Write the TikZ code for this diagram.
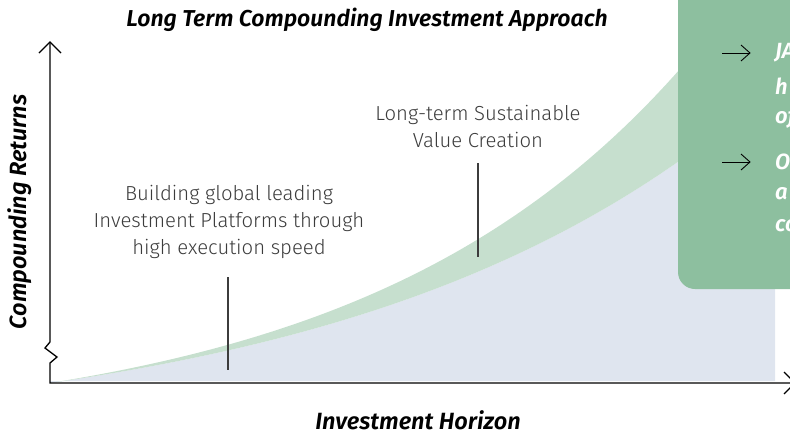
\documentclass[tikz,border=0pt]{standalone}
\usepackage{fontspec}
\setmainfont{Fira Sans}
\newfontfamily\lightfont{Fira Sans Light}
\newfontfamily\semifont{Fira Sans SemiBold Italic}
\definecolor{boxgreen}{HTML}{8DBF9F}
\definecolor{bandgreen}{HTML}{C6DFCE}
\definecolor{areablue}{HTML}{DFE5EF}
\definecolor{labgray}{HTML}{3C3C3C}
\tikzset{
  axisline/.style={line width=1.3pt, black, line join=miter},
  pointer/.style={line width=1.2pt, labgray},
  thinarrow/.style={line width=0.9pt, black, line join=miter},
  lbl/.style={font=\lightfont\fontsize{20.3}{26.7}\selectfont, text=labgray, align=center, inner sep=0pt},
  ttl/.style={font=\semifont\fontsize{23}{26}\selectfont, text=black, inner sep=0pt},
  axlbl/.style={font=\semifont\fontsize{23.5}{26}\selectfont, text=black, inner sep=0pt},
  boxtxt/.style={font=\semifont\fontsize{22}{32}\selectfont, text=white, anchor=west, inner sep=0pt}
}
\begin{document}
\begin{tikzpicture}[x=1pt,y=-1pt]
\useasboundingbox (0,0) rectangle (790,434);
\clip (0,0) rectangle (790,434);
% blue area under the curve
\fill[areablue] (50,382) -- plot[domain=50:775, samples=80] (\x, {383-58*(exp(0.0025*(\x-50))-1)}) -- (775,381) -- (50,381) -- cycle;
% green band
\fill[bandgreen] plot[domain=50:725, samples=80] (\x, {383-52*(exp(0.0031*(\x-50))-1)})
  -- plot[domain=775:50, samples=80] (\x, {383-58*(exp(0.0025*(\x-50))-1)}) -- cycle;
% green box
\fill[boxgreen, rounded corners=17pt] (678,-30) rectangle (830,289);
% box arrows
\coordinate (a1s) at (722,53); \coordinate (a1e) at (750,53);
\coordinate (a2s) at (722,162); \coordinate (a2e) at (750,162);
\draw[thinarrow] (a1s) -- (a1e);
\draw[thinarrow] (741,45) -- (a1e) -- (741,61);
\draw[thinarrow] (a2s) -- (a2e);
\draw[thinarrow] (741,154) -- (a2e) -- (741,170);
% box text
\node[boxtxt] (t1) at (775,53) {JA};
\node[boxtxt] (t2) at (775,86) {h};
\node[boxtxt] (t3) at (775,118) {of};
\node[boxtxt] (t4) at (775,162) {O};
\node[boxtxt] (t5) at (775,194) {a};
\node[boxtxt] (t6) at (775,226) {co};
% axes
\coordinate (ytop) at (50,42);
\coordinate (orig) at (50,383);
\coordinate (xend) at (795,383);
\draw[axisline] (ytop) -- (50,342) -- (45,348) -- (57,357) -- (50,363) -- (orig) -- (xend);
\draw[axisline] (39,53) -- (ytop) -- (61,53);
\draw[axisline] (784,372) -- (xend) -- (784,394);
% labels
\node[lbl] (lab1) at (229,222) {Building global leading\\Investment Platforms through\\high execution speed};
\node[lbl] (lab2) at (478,126.5) {Long-term Sustainable\\Value Creation};
\coordinate (p1a) at (228,277); \coordinate (p1b) at (228,370);
\coordinate (p2a) at (478,163); \coordinate (p2b) at (478,257);
\draw[pointer] (p1a) -- (p1b);
\draw[pointer] (p2a) -- (p2b);
% titles
\node[ttl] (title) at (367,20) {Long Term Compounding Investment Approach};
\node[axlbl] (xlab) at (418,420) {Investment Horizon};
\node[axlbl, rotate=90] (ylab) at (20,212) {Compounding Returns};
\end{tikzpicture}
\end{document}
